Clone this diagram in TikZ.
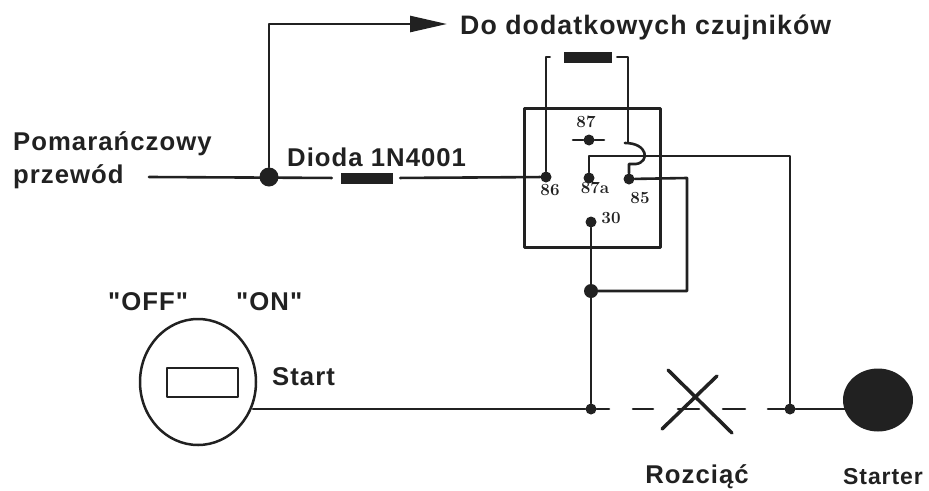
\documentclass[tikz,border=0pt]{standalone}
\usepackage{fontspec}
\newfontfamily\capfont{Liberation Sans}[LetterSpace=4]
\usetikzlibrary{arrows.meta,shapes.geometric}
\definecolor{ink}{rgb}{0.13,0.13,0.13}
\tikzset{
    wire/.style={line width=2.6pt,color=ink},
    dot/.style={circle,fill=ink,inner sep=0pt,minimum size=#1},
    dot/.default=11pt,
    resistor/.style={fill=ink,inner sep=0pt,minimum height=11pt},
    caption/.style={inner sep=0pt,color=ink,font=\capfont\bfseries\fontsize{#1}{#1}\selectfont},
    caption/.default=25.7,
    pin/.style={inner sep=0pt,color=ink,font=\bfseries\fontsize{17}{17}\selectfont}
}
\begin{document}
\begin{tikzpicture}[line cap=round,line join=round,x=1pt,y=-1pt]
    \useasboundingbox (0,0) rectangle (929,490);

    % labels
    \node[caption=26.7,anchor=west] (sensors) at (460,27) {Do dodatkowych czujników};
    \node[caption,anchor=west] (orange) at (13,144) {Pomarańczowy};
    \node[caption,anchor=west] (wirename) at (13,177) {przewód};
    \node[caption,anchor=west] (diodename) at (287,157) {Dioda 1N4001};
    \node[caption,anchor=west] (off) at (108,302) {"OFF"};
    \node[caption,anchor=west] (on) at (236,302) {"ON"};
    \node[caption,anchor=west] (start) at (272,377) {Start};
    \node[caption] (cut) at (697,477) {Rozciąć};
    \node[caption=23] (startername) at (883,477) {Starter};

    % relay
    \node[draw=ink,line width=3pt,inner sep=0pt,minimum width=136pt,minimum height=139pt] (relay) at (592,177.5) {};
    \node[pin] (label87) at (586,122) {87};
    \node[pin] (label86) at (550,190) {86};
    \node[pin] (label87a) at (595,188) {87a};
    \node[pin] (label85) at (640,198) {85};
    \node[pin] (label30) at (611,218) {30};

    \node[dot] (pin86) at (546,177) {};
    \node[dot] (pin87a) at (589,178) {};
    \node[dot] (pin85) at (629,179) {};
    \node[dot] (pin30) at (591,222) {};
    \node[dot] (pin87) at (589,140) {};
    \node[dot=19pt] (feed) at (269,177) {};
    \node[dot=14pt] (join) at (591,291) {};
    \node[dot] (cutleft) at (591,409) {};
    \node[dot] (cutright) at (790,409) {};

    \node[resistor,minimum width=48pt] (fuse) at (588,57) {};
    \node[resistor,minimum width=52pt] (diode) at (367,178) {};
    \node[draw=ink,line width=2.5pt,ellipse,inner sep=0pt,minimum width=116pt,minimum height=126pt] (key) at (198,382) {};
    \node[draw=ink,line width=2.5pt,inner sep=0pt,minimum width=71pt,minimum height=29pt] (slot) at (202.5,382.5) {};
    \node[ellipse,fill=ink,inner sep=0pt,minimum width=70pt,minimum height=63pt] (starter) at (878,400) {};

    \coordinate (in) at (149,177);
    \coordinate (tip) at (447,24);
    \coordinate (bendtop) at (628,57);
    \coordinate (humpa) at (625,143);
    \coordinate (humpb) at (636,164);
    \coordinate (corner87a) at (589,156);
    \coordinate (corner85) at (687,178);
    \coordinate (cornerright) at (790,156);
    \coordinate (keyout) at (253,409);

    % wires
    \draw [wire,shorten >=9pt] (in) -- (diode.west);
    \draw [wire,shorten <=7pt] (diode.east) -- (pin86);
    \draw [wire,-{Triangle[length=37pt,width=16pt]}] (feed) |- (tip);

    \draw [wire,shorten <=14pt] (fuse.west) -| (pin86);
    \draw [wire,shorten <=5pt] (fuse.east) -- (bendtop) |- (humpa);
    \draw [wire] (humpa) .. controls (648,143) and (650,162) .. (humpb) -| (pin85);

    \draw [wire] (pin87a) -- (corner87a) -- (cornerright) -- (cutright);
    \draw [wire] (pin85) -- (corner85) |- (join);
    \draw [wire] (pin30) -- (join) -- (cutleft);
    \draw [wire] (573,140) -- (pin87) -- (604,140);

    \draw [wire] (keyout) -- (cutleft) -- (609,409);
    \draw [wire] (633,409) -- (653,409);
    \draw [wire] (678,409) -- (699,409);
    \draw [wire] (723,409) -- (745,409);
    \draw [wire] (768,409) -- (cutright) -- (845,409);

    % cross
    \draw [line width=3.5pt,color=ink] (668,370) -- (732,433);
    \draw [line width=3.5pt,color=ink] (717,376) -- (662,429);
\end{tikzpicture}
\end{document}
